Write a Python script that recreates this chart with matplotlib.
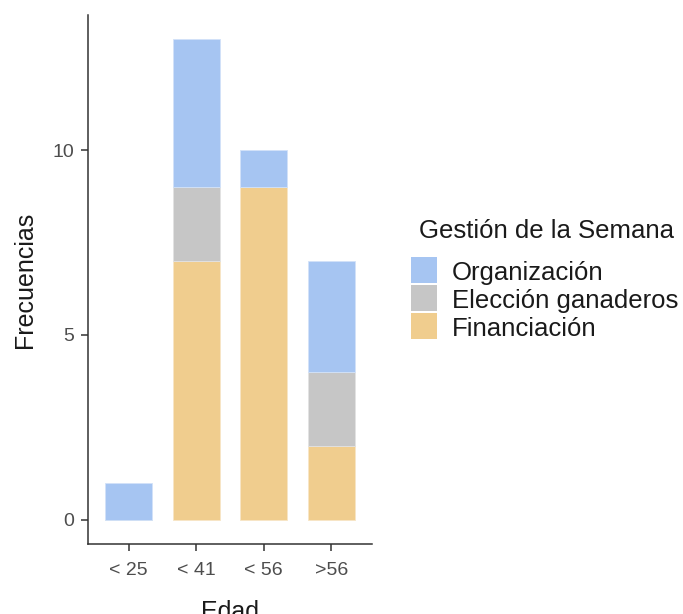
import numpy as np
import matplotlib
matplotlib.use('Agg')
import matplotlib.pyplot as plt
from matplotlib.patches import Rectangle

plt.rcParams['font.family'] = ['Liberation Sans', 'DejaVu Sans']

edades = ['< 25', '< 41', '< 56', '>56']
financiacion = [0, 7, 9, 2]
eleccion = [0, 2, 0, 2]
organizacion = [1, 4, 1, 3]

series = ['Organización', 'Elección ganaderos', 'Financiación']
colors = ['#a6c5f2', '#c6c6c6', '#f0cd8e']

W, H = 683, 614
fig = plt.figure(figsize=(W / 100, H / 100), dpi=100)
ax = fig.add_axes([88/W, 70/H, 284/W, 529/H])

ind = np.arange(len(edades))
width = 0.7
fin = np.array(financiacion)
ele = np.array(eleccion)
org = np.array(organizacion)

ax.bar(ind, fin, width, color=colors[2], edgecolor='#f7e6c6', linewidth=0.6)
ax.bar(ind, ele, width, bottom=fin, color=colors[1], edgecolor='#e2e2e2', linewidth=0.6)
ax.bar(ind, org, width, bottom=fin + ele, color=colors[0], edgecolor='#d2e2f8', linewidth=0.6)

ax.set_xlim(-0.6, 3.6)
ax.set_ylim(-0.65, 13.65)
ax.set_xticks(ind)
ax.set_xticklabels(edades)
ax.set_yticks([0, 5, 10])

for s in ['top', 'right']:
    ax.spines[s].set_visible(False)
for s in ['left', 'bottom']:
    ax.spines[s].set_color('#333333')
    ax.spines[s].set_linewidth(1.1)
ax.tick_params(axis='both', colors='#333333', width=1.1, length=5,
               labelsize=14, labelcolor='#4d4d4d', pad=5)
ax.tick_params(axis='x', pad=8)

ax.set_ylabel('Frecuencias', fontsize=18, color='#1a1a1a', labelpad=11)
ax.set_xlabel('Edad', fontsize=18, color='#1a1a1a', labelpad=15)

# legend drawn by hand (pixel layout of the reference)
fig.text(419/W, 1 - 238/H, 'Gestión de la Semana', fontsize=18.5,
         color='#1a1a1a', ha='left', va='baseline')
for i, (lab, c) in enumerate(zip(series, colors)):
    top = 257 + 28 * i
    fig.add_artist(Rectangle((411/W, 1 - (top + 26)/H), 26/W, 26/H,
                             transform=fig.transFigure, facecolor=c, edgecolor='none'))
    fig.text(452/W, 1 - (top + 23)/H, lab, fontsize=18.5, color='#1a1a1a',
             ha='left', va='baseline')

fig.savefig('out.png', dpi=100)
